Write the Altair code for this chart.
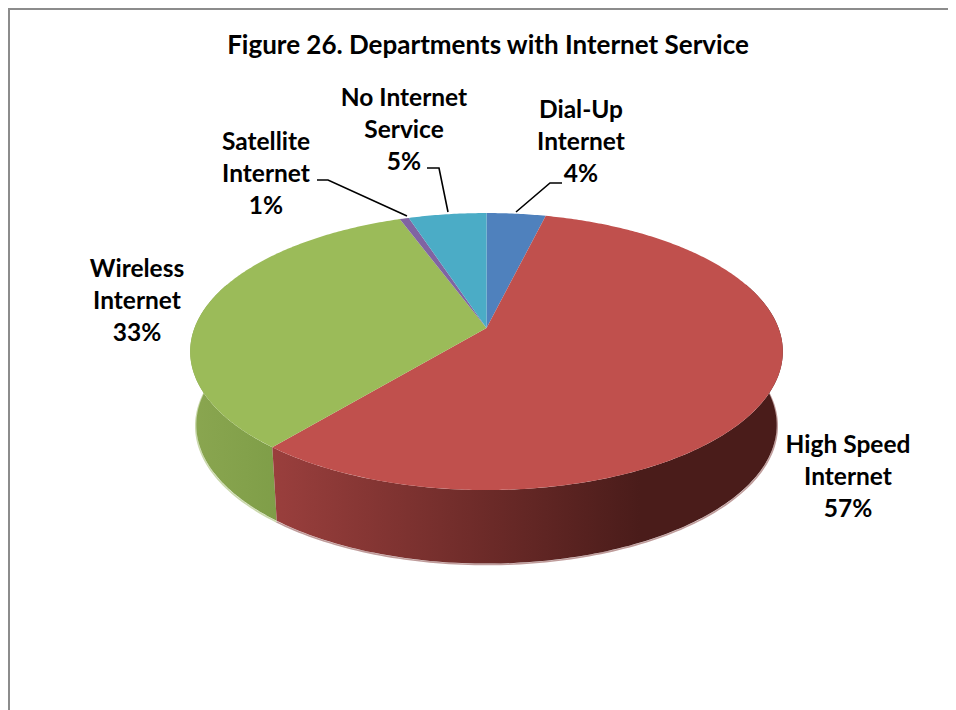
import numpy as np
import pandas as pd
import altair as alt

categories = ["Dial-Up Internet", "High Speed Internet", "Wireless Internet",
              "Satellite Internet", "No Internet Service"]
values = [3.8, 57.2, 33.4, 0.6, 5.0]
percent_labels = ["4%", "57%", "33%", "1%", "5%"]
label_lines = [["Dial-Up", "Internet"], ["High Speed", "Internet"], ["Wireless", "Internet"],
               ["Satellite", "Internet"], ["No Internet", "Service"]]
top_colors = ["#4f81bd", "#c0504d", "#9bbb59", "#8064a2", "#4bacc6"]
title_text = "Figure 26. Departments with Internet Service"

# layout (page pixels)
W, H = 940, 702
CX, CY, A, B, K = 486.5, 328.0, 292.0, 134.5, 0.17
CX2, CY2, A2, B2 = 486.5, 401.5, 286.0, 134.5
FONT = "Lato"
label_x = [581, 848, 137, 266, 404]
label_mid_y = [143, 478, 302, 175, 131]
title_y = 46
leaders = [[(562, 183), (550, 183), (516, 212)],
           [(317, 180), (328, 180), (407, 216)],
           [(427, 168), (439, 168), (448, 212)]]

xs = alt.X("x:Q", scale=alt.Scale(domain=[8, 8 + W], nice=False, zero=False), axis=None)
ys = alt.Y("y:Q", scale=alt.Scale(domain=[8, 8 + H], nice=False, zero=False, reverse=True), axis=None)


def rim(theta_deg, cx, cy, a, b):
    t = np.radians(np.asarray(theta_deg, dtype=float))
    s = -np.cos(t)
    w = 1.0 / (1.0 - K * s)
    return cx + a * np.sin(t) * w, cy + b * s * w


def poly(px, py, **mark):
    df = pd.DataFrame({"x": px, "y": py, "i": np.arange(len(px))})
    return alt.Chart(df).mark_line(filled=True, strokeWidth=0, **mark).encode(
        x=xs, y=ys, order=alt.Order("i:Q"))


def curve(px, py, **mark):
    df = pd.DataFrame({"x": px, "y": py, "i": np.arange(len(px))})
    return alt.Chart(df).mark_line(**mark).encode(x=xs, y=ys, order=alt.Order("i:Q"))


edges = np.concatenate([[0], np.cumsum(values)]) * 3.6


def wall(t0, t1, stops):
    th = np.linspace(t0, t1, 140)
    x1, y1 = rim(th, CX, CY, A, B)
    x2, y2 = rim(th[::-1], CX2, CY2, A2, B2)
    grad = alt.LinearGradient(gradient="linear", x1=0, x2=1, y1=0, y2=0,
                              stops=[alt.GradientStop(offset=o, color=c) for o, c in stops])
    return poly(np.concatenate([x1, x2]), np.concatenate([y1, y2]), fill=grad)


th_red = np.linspace(70, edges[2], 140)
th_green = np.linspace(edges[2], 290, 60)
layers = [
    curve(*rim(th_red, CX2, CY2 + 1, A2 + 0.5, B2), color="#bf9c9b", strokeWidth=1.6),
    curve(*rim(th_green, CX2, CY2 + 1, A2 + 0.5, B2), color="#cbd9ad", strokeWidth=1.6),
    wall(edges[2], 290, [(0, "#8aa650"), (1, "#7f9e48")]),
    wall(70, edges[2], [(0, "#9a3f3d"), (0.43, "#6b2a28"), (0.72, "#4a1c1a"), (1, "#4a1c1a")]),
]
for i, c in enumerate(top_colors):
    th = np.linspace(edges[i], edges[i + 1], max(4, int(values[i] * 6)))
    rx, ry = rim(th, CX, CY, A, B)
    layers.append(poly(np.concatenate([[CX], rx]), np.concatenate([[CY], ry]), fill=c))

for pts in leaders:
    df = pd.DataFrame(pts, columns=["x", "y"]).assign(i=lambda d: d.index)
    layers.append(alt.Chart(df).mark_line(color="#000000", strokeWidth=1.6).encode(
        x=xs, y=ys, order=alt.Order("i:Q")))

rows = []
for i in range(len(categories)):
    lines = label_lines[i] + [percent_labels[i]]
    for j, t in enumerate(lines):
        rows.append({"x": label_x[i], "y": label_mid_y[i] + (j - 1) * 32, "t": t})
layers.append(alt.Chart(pd.DataFrame(rows)).mark_text(
    font=FONT, fontWeight="bold", fontSize=24.5, color="#000000", align="center", baseline="middle"
).encode(x=xs, y=ys, text="t:N"))

layers.append(alt.Chart(pd.DataFrame({"x": [488], "y": [title_y], "t": [title_text]})).mark_text(
    font=FONT, fontWeight="bold", fontSize=26, color="#000000", align="center", baseline="middle"
).encode(x=xs, y=ys, text="t:N"))

frame = "#8c8c8c"
layers.append(alt.Chart(pd.DataFrame({"a": [0]})).mark_rule(color=frame, strokeWidth=2).encode(
    x=alt.value(0), x2=alt.value(W), y=alt.value(1)))
layers.append(alt.Chart(pd.DataFrame({"a": [0]})).mark_rule(color=frame, strokeWidth=2).encode(
    y=alt.value(0), y2=alt.value(H), x=alt.value(1)))

chart = alt.layer(*layers).properties(
    width=W, height=H, padding=0, autosize=alt.AutoSizeParams(type="none"), background="white"
).configure_view(stroke=None)

chart.save("out.html", embed_options={"renderer": "svg", "actions": False})
